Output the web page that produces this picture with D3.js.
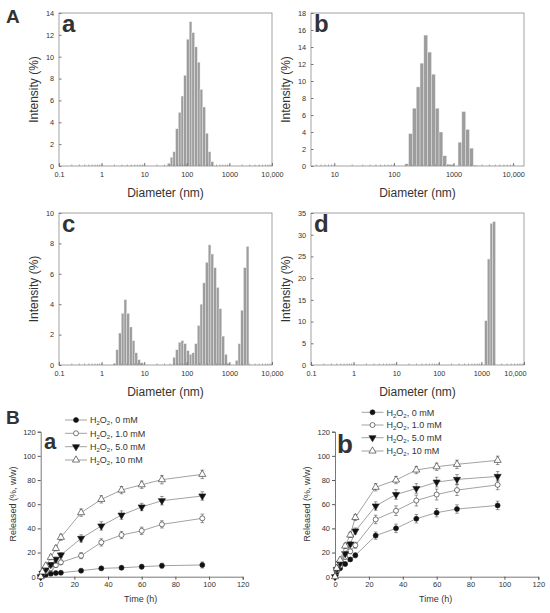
<!DOCTYPE html>
<html>
<head>
<meta charset="utf-8">
<script src="https://cdn.jsdelivr.net/npm/d3@7"></script>
<style>
  body { margin: 0; background: #fff; }
  text { font-family: "Liberation Sans", Arial, sans-serif; fill: #333; }
</style>
</head>
<body>
<svg id="fig" width="550" height="613"></svg>
<script>
// --- DLS size distributions: bin centre (nm) and intensity (%) ---
const aDiam = [37.84, 43.82, 50.75, 58.77, 68.06, 78.82, 91.28, 105.7, 122.4, 141.8, 164.2, 190.1, 220.2, 255.0, 295.3, 342.0, 396.1];
const aInt  = [0.25, 0.8, 1.3, 3.4, 4.9, 6.4, 8.3, 11.6, 13.2, 12.2, 10.9, 9.5, 7.0, 5.4, 3.0, 1.3, 0.4];

const bDiam = [164.2, 190.1, 220.2, 255.0, 295.3, 342.0, 396.1, 458.7, 531.2, 615.1, 712.4, 825.0, 955.4, 1281, 1484, 1718, 1990, 2305];
const bInt  = [0.25, 3.8, 6.8, 9.3, 12.1, 15.4, 13.4, 10.8, 6.8, 4.0, 1.2, 0.2, 0.15, 2.8, 6.4, 4.3, 2.1, 0.1];

const cDiam = [2.010, 2.328, 2.696, 3.122, 3.615, 4.187, 4.849, 5.615, 6.503, 7.531, 8.721,
               50.75, 58.77, 68.06, 78.82, 91.28, 105.7, 122.4, 141.8, 164.2, 190.1, 220.2, 255.0, 295.3, 342.0, 396.1, 458.7, 531.2, 615.1, 712.4, 825.0, 955.4,
               1484, 1718, 1990, 2305, 2669];
const cInt  = [0.1, 1.0, 2.1, 3.4, 4.3, 3.4, 2.5, 1.6, 0.8, 0.35, 0.15,
               0.5, 1.0, 1.5, 1.6, 1.4, 0.95, 0.7, 0.8, 1.4, 2.6, 4.0, 5.4, 6.75, 7.9, 7.3, 6.4, 5.1, 3.7, 1.9, 0.7, 0.1,
               0.3, 1.4, 3.6, 6.4, 7.8];

const dDiam = [1281, 1484, 1718, 1990];
const dInt  = [10.2, 24.4, 32.6, 33.0];

// --- release profiles ---
const times = [0, 1, 3, 6, 9, 12, 24, 36, 48, 60, 72, 96];
const seriesNames = ["0 mM", "1.0 mM", "5.0 mM", "10 mM"];

const relA0  = [0, 0.8, 1.7, 2.5, 3.0, 3.3, 5.0, 6.9, 7.4, 8.3, 9.1, 9.7];
const relA1  = [0, 2.0, 4.0, 7.0, 9.6, 11.9, 17.4, 28.4, 34.5, 38.0, 43.3, 48.3];
const relA5  = [0, 2.8, 6.0, 10.0, 14.3, 18.0, 31.7, 42.0, 51.0, 57.7, 62.9, 66.8];
const relA10 = [0, 4.0, 9.0, 16.0, 23.4, 32.6, 53.0, 64.0, 71.7, 76.1, 80.3, 84.7];
const errA0  = [0, 0.5, 0.8, 1.0, 1.0, 1.0, 1.2, 1.5, 1.5, 1.8, 2.0, 2.5];
const errA1  = [0, 1.0, 1.2, 1.5, 2.0, 2.0, 2.5, 3.0, 3.0, 3.0, 3.0, 3.5];
const errA5  = [0, 1.0, 1.2, 1.5, 2.0, 2.0, 3.0, 3.5, 3.5, 3.0, 3.5, 3.5];
const errA10 = [0, 1.0, 1.5, 2.0, 2.0, 2.5, 3.0, 3.0, 3.0, 3.0, 3.5, 3.5];

const relB0  = [0, 4.0, 6.9, 10.5, 14.3, 17.7, 34.0, 40.0, 48.0, 53.0, 56.0, 59.0];
const relB1  = [0, 5.0, 9.0, 16.5, 21.0, 26.0, 47.4, 54.6, 63.0, 68.0, 71.7, 76.0];
const relB5  = [0, 6.0, 11.0, 19.0, 27.0, 37.8, 58.5, 68.0, 73.0, 78.3, 80.5, 83.0];
const relB10 = [0, 7.0, 13.8, 25.4, 34.5, 49.0, 74.0, 80.0, 88.3, 91.0, 93.0, 96.3];
const errB0  = [0, 1.0, 1.0, 1.5, 1.5, 2.0, 3.0, 3.5, 3.5, 3.5, 3.5, 3.5];
const errB1  = [0, 1.0, 1.5, 2.0, 2.0, 2.5, 3.5, 4.0, 4.5, 4.5, 4.5, 4.0];
const errB5  = [0, 1.0, 1.5, 2.0, 2.0, 2.5, 3.5, 4.0, 4.0, 4.0, 4.0, 4.0];
const errB10 = [0, 1.0, 1.5, 2.0, 2.0, 2.5, 3.0, 3.0, 3.0, 3.0, 3.5, 3.5];

const svg = d3.select("#fig");
const binRatio = Math.sqrt(1.1581);   // half-bin factor of the log-spaced size classes

function sizeLabel(d) {
    if (d === 10000) return "10,000";
    return String(d);
}

function histPanel(o) {
    const x = d3.scaleLog().domain(o.xDomain).range([o.left, o.right]);
    const y = d3.scaleLinear().domain([0, o.yMax]).range([o.bottom, o.top]);
    const g = svg.append("g");

    g.selectAll("rect.bar")
        .data(d3.zip(o.diam, o.vals))
        .join("rect")
        .attr("class", "bar")
        .attr("x", d => x(d[0] / binRatio))
        .attr("width", d => x(d[0] * binRatio) - x(d[0] / binRatio))
        .attr("y", d => y(d[1]))
        .attr("height", d => y(0) - y(d[1]))
        .attr("fill", "#9d9d9d")
        .attr("stroke", "#eeeeee")
        .attr("stroke-width", 0.4);

    g.append("rect")
        .attr("x", o.left).attr("y", o.top)
        .attr("width", o.right - o.left).attr("height", o.bottom - o.top)
        .attr("fill", "none").attr("stroke", "#8c8c8c").attr("stroke-width", 0.8);

    // y axis
    const ya = g.append("g")
        .attr("transform", `translate(${o.left},0)`)
        .call(d3.axisLeft(y).tickValues(d3.range(0, o.yMax + 0.001, o.yStep))
            .tickSizeInner(-2.5).tickSizeOuter(0).tickPadding(5));
    ya.select(".domain").remove();
    ya.selectAll("line").attr("stroke", "#777");
    ya.selectAll("text").attr("font-size", 7.3).attr("fill", "#333");

    // x axis: minor ticks then majors
    const minor = x.ticks().filter(t => t >= o.xDomain[0] && t <= o.xDomain[1]);
    g.selectAll("line.minor")
        .data(minor)
        .join("line")
        .attr("class", "minor")
        .attr("x1", d => x(d)).attr("x2", d => x(d))
        .attr("y1", o.bottom).attr("y2", o.bottom - 1.5)
        .attr("stroke", "#777").attr("stroke-width", 0.6);

    const xa = g.append("g")
        .attr("transform", `translate(0,${o.bottom})`)
        .call(d3.axisBottom(x).tickValues(o.xTicks).tickFormat(sizeLabel)
            .tickSizeInner(-3).tickSizeOuter(0).tickPadding(6));
    xa.select(".domain").remove();
    xa.selectAll("line").attr("stroke", "#777");
    xa.selectAll("text").attr("font-size", 7.3).attr("fill", "#333")
        .attr("dx", d => (d === 10000 ? o.lastDx : 0));

    g.append("text")
        .attr("x", (o.left + o.right) / 2).attr("y", o.bottom + 31)
        .attr("text-anchor", "middle").attr("font-size", 12)
        .text("Diameter (nm)");
    g.append("text")
        .attr("transform", `translate(${o.left - 21},${(o.top + o.bottom) / 2}) rotate(-90)`)
        .attr("text-anchor", "middle").attr("font-size", 12)
        .text("Intensity (%)");

    g.append("text")
        .attr("x", o.left + 3).attr("y", o.top + 19)
        .attr("font-size", 24).attr("font-weight", "bold").attr("fill", "#111")
        .text(o.tag);
}

histPanel({ tag: "a", diam: aDiam, vals: aInt, left: 59, right: 272, top: 13, bottom: 166,
    xDomain: [0.1, 10000], xTicks: [0.1, 1, 10, 100, 1000, 10000], yMax: 14, yStep: 2, lastDx: 0 });
histPanel({ tag: "b", diam: bDiam, vals: bInt, left: 311, right: 524, top: 13, bottom: 166,
    xDomain: [4.07, 15200], xTicks: [10, 100, 1000, 10000], yMax: 18, yStep: 2, lastDx: 0 });
histPanel({ tag: "c", diam: cDiam, vals: cInt, left: 59, right: 272, top: 213, bottom: 365,
    xDomain: [0.1, 10000], xTicks: [0.1, 1, 10, 100, 1000, 10000], yMax: 10, yStep: 2, lastDx: 0 });
histPanel({ tag: "d", diam: dDiam, vals: dInt, left: 311, right: 524, top: 213, bottom: 365,
    xDomain: [0.1, 10000], xTicks: [0.1, 1, 10, 100, 1000, 10000], yMax: 35, yStep: 5, lastDx: -9 });

// --- release panels ---
const markerKinds = ["circleFilled", "circleOpen", "triDownFilled", "triUpOpen"];

function drawMarker(sel, kind) {
    if (kind.startsWith("circle")) {
        sel.append("circle").attr("r", 2.5)
            .attr("fill", kind === "circleFilled" ? "#111" : "#fff")
            .attr("stroke", "#222").attr("stroke-width", 0.6);
    } else {
        sel.append("path")
            .attr("d", d3.symbol().type(d3.symbolTriangle).size(22)())
            .attr("transform", kind === "triDownFilled" ? "rotate(180)" : null)
            .attr("fill", kind === "triDownFilled" ? "#111" : "#fff")
            .attr("stroke", "#222").attr("stroke-width", 0.6);
    }
}

function releasePanel(o) {
    const x = d3.scaleLinear().domain([0, 120]).range([o.left, o.right]);
    const y = d3.scaleLinear().domain([0, 120]).range([576.7, 431.7]);
    const g = svg.append("g");

    const ya = g.append("g").attr("transform", `translate(${o.left},0)`)
        .call(d3.axisLeft(y).tickValues(d3.range(0, 121, 20)).tickSize(3).tickPadding(2));
    ya.select(".domain").attr("stroke", "#555").attr("stroke-width", 0.8);
    ya.selectAll("line").attr("stroke", "#555");
    ya.selectAll("text").attr("font-size", 7.5).attr("fill", "#333");

    const xa = g.append("g").attr("transform", `translate(0,${y(0)})`)
        .call(d3.axisBottom(x).tickValues(d3.range(0, 121, 20)).tickSize(3).tickPadding(2));
    xa.select(".domain").attr("stroke", "#555").attr("stroke-width", 0.8);
    xa.selectAll("line").attr("stroke", "#555");
    xa.selectAll("text").attr("font-size", 7.5).attr("fill", "#333");

    const line = d3.line().x(d => x(d[0])).y(d => y(d[1]));

    o.series.forEach((vals, i) => {
        const pts = d3.zip(times, vals, o.errs[i]);
        g.append("path").datum(pts).attr("d", line)
            .attr("fill", "none").attr("stroke", "#8a8a8a").attr("stroke-width", 0.8);
        const eb = g.append("g");
        pts.filter(p => p[2] > 0).forEach(p => {
            const cx = x(p[0]);
            eb.append("line").attr("x1", cx).attr("x2", cx)
                .attr("y1", y(p[1] - p[2])).attr("y2", y(p[1] + p[2]));
            [p[1] - p[2], p[1] + p[2]].forEach(v => {
                eb.append("line").attr("x1", cx - 1.8).attr("x2", cx + 1.8)
                    .attr("y1", y(v)).attr("y2", y(v));
            });
        });
        eb.selectAll("line").attr("stroke", "#555").attr("stroke-width", 0.6);
        pts.forEach(p => {
            const m = g.append("g").attr("transform", `translate(${x(p[0])},${y(p[1])})`);
            drawMarker(m, markerKinds[i]);
        });
    });

    // legend
    seriesNames.forEach((nm, i) => {
        const ly = o.legY[i];
        g.append("line").attr("x1", o.legX).attr("x2", o.legX + 22)
            .attr("y1", ly).attr("y2", ly).attr("stroke", "#8a8a8a").attr("stroke-width", 0.8);
        const m = g.append("g").attr("transform", `translate(${o.legX + 11},${ly})`);
        drawMarker(m, markerKinds[i]);
        const t = g.append("text").attr("x", o.legX + 25).attr("y", ly + 3.2).attr("font-size", 9);
        t.append("tspan").text("H");
        t.append("tspan").attr("font-size", 6).attr("dy", 2).text("2");
        t.append("tspan").attr("dy", -2).text("O");
        t.append("tspan").attr("font-size", 6).attr("dy", 2).text("2");
        t.append("tspan").attr("dy", -2).text(", " + nm);
    });

    g.append("text")
        .attr("x", (o.left + o.right) / 2 - 1).attr("y", 602)
        .attr("text-anchor", "middle").attr("font-size", 9)
        .text("Time (h)");
    g.append("text")
        .attr("transform", `translate(${o.left - 25},504) rotate(-90)`)
        .attr("text-anchor", "middle").attr("font-size", 9)
        .text("Released (%, w/w)");
    g.append("text")
        .attr("x", o.tagX).attr("y", o.tagY)
        .attr("font-size", o.tagSize).attr("font-weight", "bold").attr("fill", "#111")
        .text(o.tag);
}

releasePanel({ tag: "a", tagX: 44, tagY: 449, tagSize: 22, left: 40.7, right: 242.7,
    series: [relA0, relA1, relA5, relA10], errs: [errA0, errA1, errA5, errA10],
    legX: 65, legY: [420, 433.3, 446.7, 460] });
releasePanel({ tag: "b", tagX: 337, tagY: 453, tagSize: 26, left: 335, right: 538.3,
    series: [relB0, relB1, relB5, relB10], errs: [errB0, errB1, errB5, errB10],
    legX: 361.5, legY: [412.3, 425, 437.7, 451] });

// panel letters
svg.append("text").attr("x", 6).attr("y", 23).attr("font-size", 19)
    .attr("font-weight", "bold").attr("fill", "#111").text("A");
svg.append("text").attr("x", 6).attr("y", 424).attr("font-size", 19)
    .attr("font-weight", "bold").attr("fill", "#111").text("B");
</script>
</body>
</html>
